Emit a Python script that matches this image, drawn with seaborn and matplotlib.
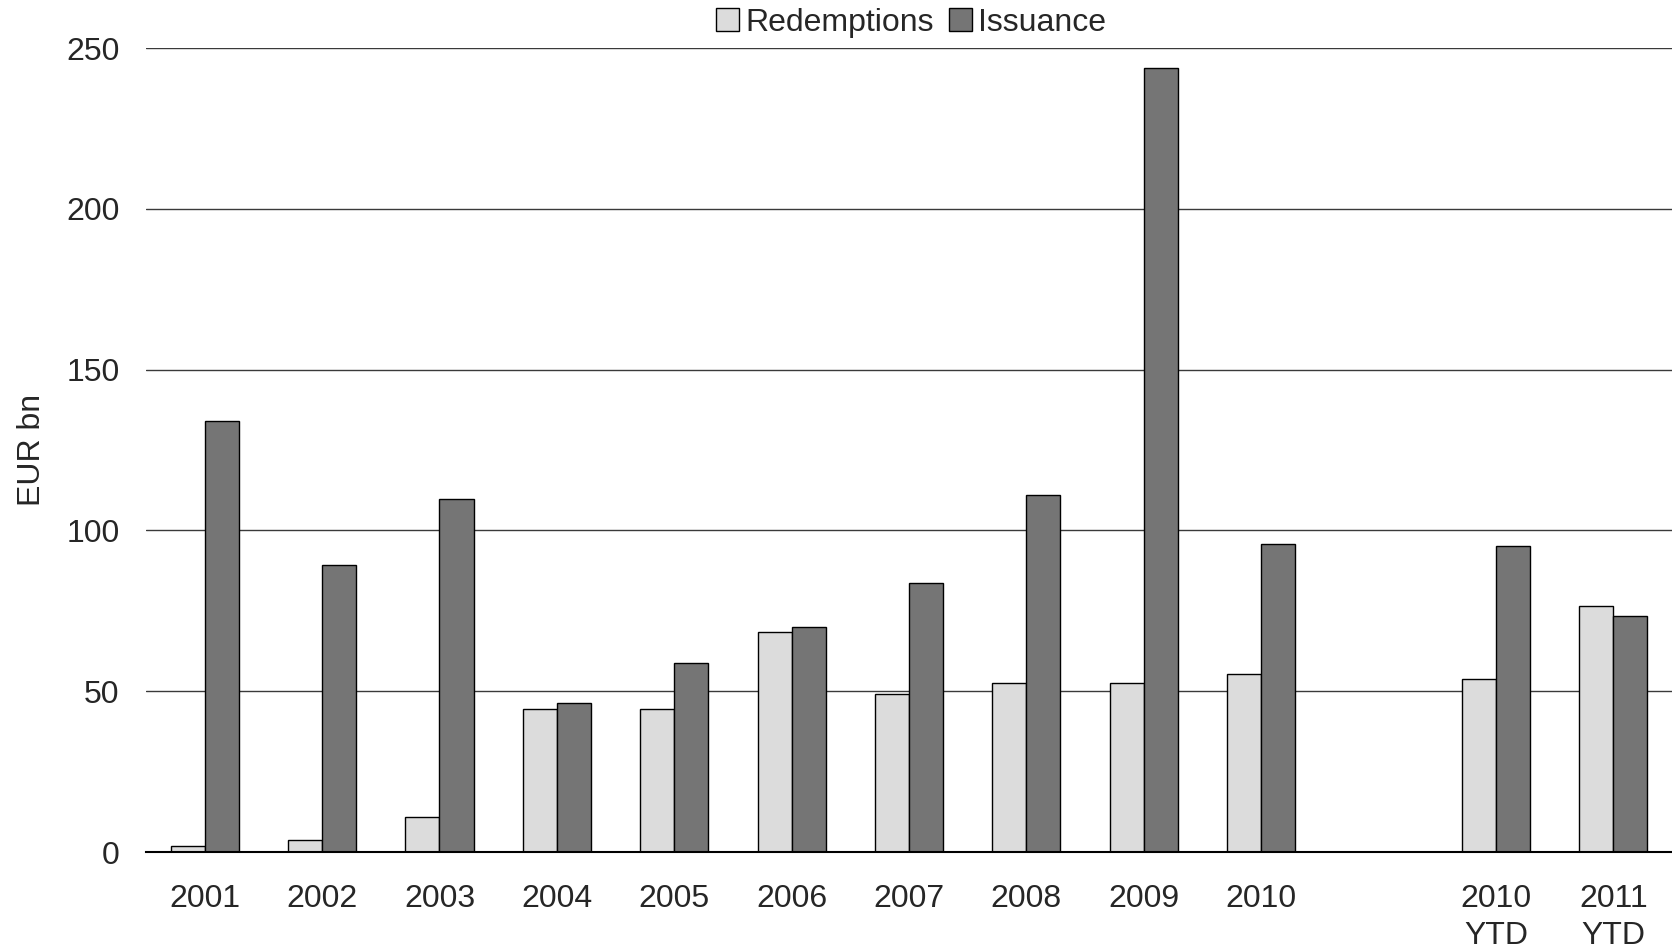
import matplotlib
matplotlib.use("Agg")
import matplotlib.pyplot as plt
import seaborn as sns
import pandas as pd

# Annual covered bond redemptions vs issuance (EUR bn)
categories = ["2001", "2002", "2003", "2004", "2005", "2006", "2007",
              "2008", "2009", "2010", "", "2010 YTD", "2011 YTD"]
tick_labels = ["2001", "2002", "2003", "2004", "2005", "2006", "2007",
               "2008", "2009", "2010", "", "2010\nYTD", "2011\nYTD"]
data_categories = ["2001", "2002", "2003", "2004", "2005", "2006", "2007",
                   "2008", "2009", "2010", "2010 YTD", "2011 YTD"]
redemptions = [2.0, 3.6, 10.9, 44.4, 44.4, 68.3, 49.1, 52.4, 52.7, 55.4, 53.7, 76.6]
issuance = [134.0, 89.2, 109.7, 46.4, 58.7, 70.0, 83.6, 111.1, 243.7, 95.8, 95.2, 73.3]
series = ["Redemptions", "Issuance"]
colors = ["#dcdcdc", "#757575"]

df = pd.concat([
    pd.DataFrame({"period": data_categories, "value": redemptions, "series": series[0]}),
    pd.DataFrame({"period": data_categories, "value": issuance, "series": series[1]}),
])

sns.set_theme(style="white")
plt.rcParams["font.family"] = ["Liberation Sans", "DejaVu Sans"]

fig = plt.figure(figsize=(16.72, 9.52), dpi=100)
ax = fig.add_axes([146 / 1672, 1 - 852 / 952, 1 - 146 / 1672, (852 - 48) / 952])

sns.barplot(data=df, x="period", y="value", hue="series", order=categories,
            hue_order=series, palette=colors, width=0.58, gap=0,
            edgecolor="black", linewidth=1.0, saturation=1, ax=ax, legend=True)

ax.set_ylim(0, 250)
ax.set_xlim(-0.5, len(categories) - 0.5)
ax.set_yticks([0, 50, 100, 150, 200, 250])
ax.yaxis.grid(True, color="#3a3a3a", linewidth=1.0)
ax.set_axisbelow(True)
ax.set_xticks(range(len(categories)))
ax.set_xticklabels(tick_labels, fontsize=23, linespacing=1.3)
ax.tick_params(axis="x", length=0, pad=23)
ax.tick_params(axis="y", length=0, pad=19, labelsize=23)
ax.set_xlabel("")
ax.set_ylabel("EUR bn", fontsize=23, labelpad=14)

for side in ["top", "right", "left"]:
    ax.spines[side].set_visible(False)
ax.spines["bottom"].set_color("black")
ax.spines["bottom"].set_linewidth(1.5)

handles, labels = ax.get_legend_handles_labels()
ax.legend_.remove()
fig.legend(handles, labels, loc="upper center", bbox_to_anchor=(0.545, 1.022),
           ncol=2, frameon=False, fontsize=23, handlelength=0.7, handleheight=0.7,
           handletextpad=0.2, columnspacing=0.5)

fig.savefig("out.png", dpi=100)
